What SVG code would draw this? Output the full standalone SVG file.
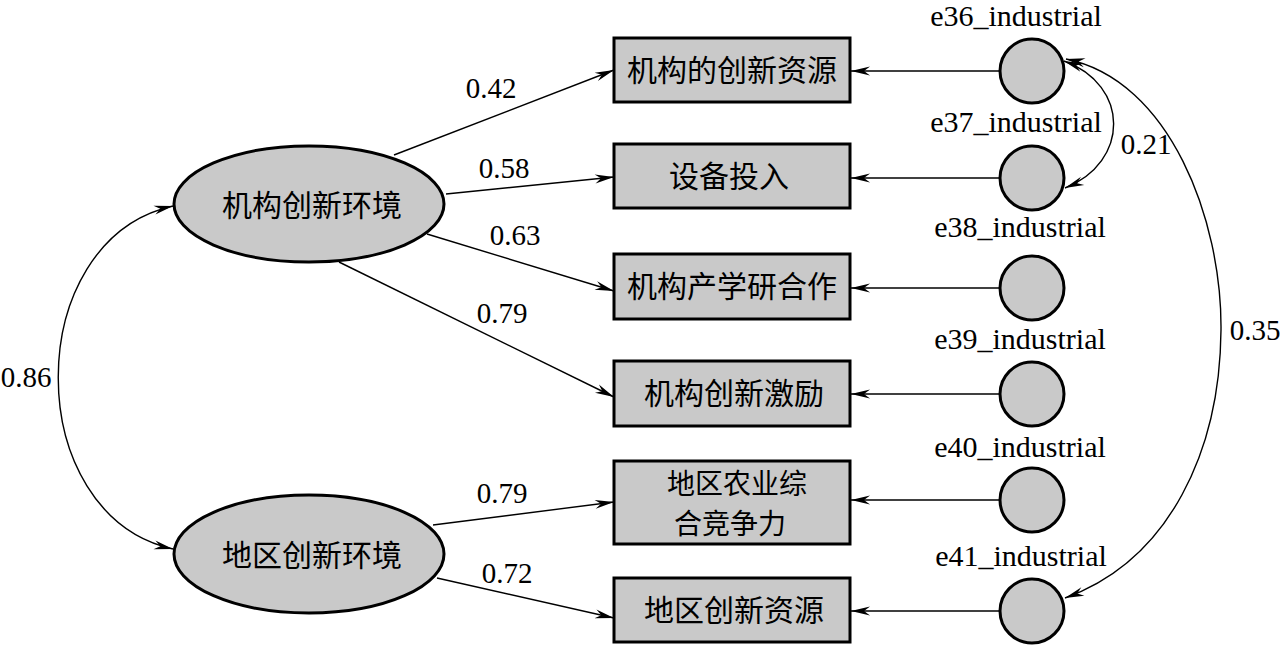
<svg xmlns="http://www.w3.org/2000/svg" width="1280" height="646" viewBox="0 0 1280 646">
<style>
.n{fill:#c9c9c9;stroke:#000;stroke-width:3}
.c{fill:none;stroke:#000;stroke-width:1.4}
.zh{font-family:"Noto Sans CJK SC",sans-serif;font-size:30px;fill:#000;text-anchor:middle}
.zs{font-family:"Noto Sans CJK SC",sans-serif;font-size:28px;fill:#000;text-anchor:middle}
.num{font-family:"Liberation Serif",serif;font-size:29px;fill:#000;text-anchor:middle}
.lb{font-family:"Liberation Serif",serif;font-size:30px;fill:#000;text-anchor:middle}
</style>
<defs>
<marker id="ah" viewBox="-20 -6 22 12" refX="0" refY="0" markerWidth="22" markerHeight="12" markerUnits="userSpaceOnUse" orient="auto-start-reverse">
<path d="M0,0 L-19,-4.5 L-13,0 L-19,4.5 Z" fill="#000"/>
</marker>
</defs>
<rect width="1280" height="646" fill="#fff"/>
<g id="connectors">
<line class="c" x1="394" y1="155" x2="614" y2="70" marker-end="url(#ah)"/>
<line class="c" x1="446" y1="194" x2="614" y2="177" marker-end="url(#ah)"/>
<line class="c" x1="427" y1="234" x2="614" y2="291" marker-end="url(#ah)"/>
<line class="c" x1="339" y1="262" x2="614" y2="397" marker-end="url(#ah)"/>
<line class="c" x1="433" y1="525" x2="614" y2="502" marker-end="url(#ah)"/>
<line class="c" x1="437" y1="578" x2="614" y2="618" marker-end="url(#ah)"/>
<line class="c" x1="1000" y1="71" x2="851" y2="71" marker-end="url(#ah)"/>
<line class="c" x1="1000" y1="178" x2="851" y2="178" marker-end="url(#ah)"/>
<line class="c" x1="1000" y1="288" x2="851" y2="288" marker-end="url(#ah)"/>
<line class="c" x1="1000" y1="394" x2="851" y2="394" marker-end="url(#ah)"/>
<line class="c" x1="1000" y1="500" x2="851" y2="500" marker-end="url(#ah)"/>
<line class="c" x1="1000" y1="611" x2="851" y2="611" marker-end="url(#ah)"/>
<path class="c" d="M173,206 C20,240 20,515 173,549" marker-start="url(#ah)" marker-end="url(#ah)"/>
<path class="c" d="M1064,61 C1130,85 1130,162 1065,188" marker-start="url(#ah)" marker-end="url(#ah)"/>
<path class="c" d="M1066,59 C1170,80 1222,220 1221,330 C1220,450 1170,560 1065,598" marker-start="url(#ah)" marker-end="url(#ah)"/>
</g>
<g id="labels">
<text class="num" x="491" y="98">0.42</text>
<text class="num" x="504" y="178">0.58</text>
<text class="num" x="515" y="245">0.63</text>
<text class="num" x="502" y="323">0.79</text>
<text class="num" x="26" y="387">0.86</text>
<text class="num" x="502" y="503">0.79</text>
<text class="num" x="507" y="583">0.72</text>
<text class="num" x="1146" y="154">0.21</text>
<text class="num" x="1255" y="340">0.35</text>
</g>
<g id="f1"><ellipse class="n" cx="309" cy="204" rx="135" ry="58"/><text class="zh" x="312" y="216">机构创新环境</text></g>
<g id="f2"><ellipse class="n" cx="309" cy="554" rx="135" ry="59"/><text class="zh" x="312" y="566">地区创新环境</text></g>
<g id="v1"><rect class="n" x="614" y="38" width="236" height="64"/><text class="zh" x="732" y="81">机构的创新资源</text></g>
<g id="v2"><rect class="n" x="614" y="144" width="236" height="64"/><text class="zh" x="729" y="187">设备投入</text></g>
<g id="v3"><rect class="n" x="614" y="254" width="236" height="65"/><text class="zh" x="732" y="297">机构产学研合作</text></g>
<g id="v4"><rect class="n" x="614" y="361" width="236" height="65"/><text class="zh" x="734" y="404">机构创新激励</text></g>
<g id="v5"><rect class="n" x="614" y="461" width="236" height="83"/><text class="zs" x="737" y="494">地区农业综</text><text class="zs" x="730" y="534">合竞争力</text></g>
<g id="v6"><rect class="n" x="614" y="578" width="236" height="64"/><text class="zh" x="734" y="621">地区创新资源</text></g>
<g id="e36"><circle class="n" cx="1032" cy="71" r="32"/><text class="lb" x="1016" y="26">e36_industrial</text></g>
<g id="e37"><circle class="n" cx="1032" cy="178" r="32"/><text class="lb" x="1016" y="132">e37_industrial</text></g>
<g id="e38"><circle class="n" cx="1032" cy="288" r="32"/><text class="lb" x="1020" y="237">e38_industrial</text></g>
<g id="e39"><circle class="n" cx="1032" cy="394" r="32"/><text class="lb" x="1020" y="349">e39_industrial</text></g>
<g id="e40"><circle class="n" cx="1032" cy="500" r="32"/><text class="lb" x="1020" y="457">e40_industrial</text></g>
<g id="e41"><circle class="n" cx="1032" cy="611" r="32"/><text class="lb" x="1021" y="566">e41_industrial</text></g>
</svg>
